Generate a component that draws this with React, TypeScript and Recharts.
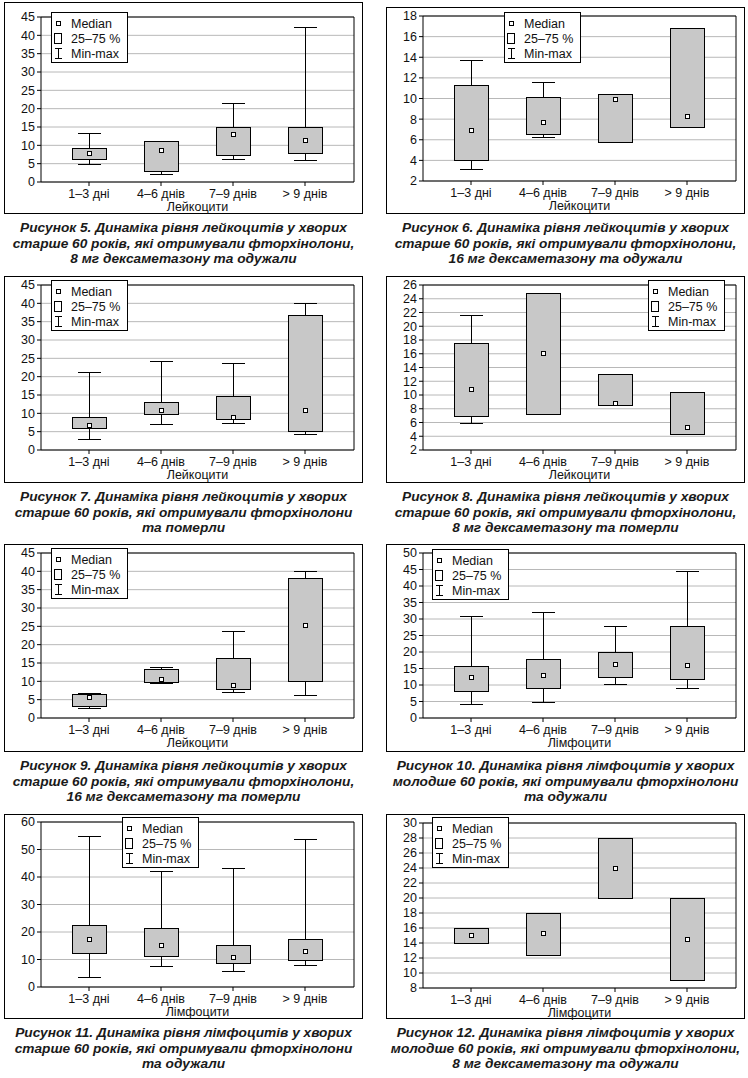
import React from "react";
import { ComposedChart, Bar, Scatter, XAxis, YAxis, CartesianGrid, Legend } from "recharts";

const categories = ["1–3 дні", "4–6 днів", "7–9 днів", "> 9 днів"];

// Рисунок 5 (лейкоцити, >60, 8 мг, одужали)
const f5Min = [5.0, 2.3, 6.4, 6.1];
const f5Q1 = [6.4, 3.0, 7.5, 8.0];
const f5Med = [8.0, 8.8, 13.2, 11.4];
const f5Q3 = [9.4, 11.2, 15.0, 15.0];
const f5Max = [13.4, null, 21.6, 42.4];

// Рисунок 6
const f6Min = [3.2, 6.3, null, null];
const f6Q1 = [4.0, 6.6, 5.8, 7.25];
const f6Med = [6.9, 7.7, 9.95, 8.35];
const f6Q3 = [11.3, 10.1, 10.4, 16.8];
const f6Max = [13.7, 11.6, null, null];

// Рисунок 7
const f7Min = [2.9, 7.0, 7.3, 4.3];
const f7Q1 = [5.9, 9.7, 8.4, 5.1];
const f7Med = [6.8, 11.0, 9.1, 10.8];
const f7Q3 = [8.9, 13.2, 14.6, 36.7];
const f7Max = [21.2, 24.4, 23.6, 40.0];

// Рисунок 8
const f8Min = [5.9, null, null, null];
const f8Q1 = [7.0, 7.2, 8.6, 4.4];
const f8Med = [10.8, 16.1, 8.9, 5.3];
const f8Q3 = [17.5, 24.8, 13.0, 10.5];
const f8Max = [21.6, null, null, null];

// Рисунок 9
const f9Min = [2.7, 9.6, 7.1, 6.3];
const f9Q1 = [3.3, 9.8, 7.8, 10.1];
const f9Med = [5.8, 10.5, 9.1, 25.3];
const f9Q3 = [6.6, 13.5, 16.4, 38.3];
const f9Max = [6.9, 14.0, 23.7, 40.2];

// Рисунок 10
const f10Min = [4.1, 5.0, 10.4, 9.2];
const f10Q1 = [8.2, 9.2, 12.3, 11.7];
const f10Med = [12.5, 13.0, 16.3, 16.0];
const f10Q3 = [15.8, 18.0, 20.0, 27.9];
const f10Max = [31.0, 32.2, 27.9, 44.6];

// Рисунок 11
const f11Min = [3.5, 7.8, 6.0, 8.1];
const f11Q1 = [12.2, 11.1, 8.9, 10.0];
const f11Med = [17.3, 15.1, 10.9, 13.1];
const f11Q3 = [22.7, 21.3, 15.4, 17.6];
const f11Max = [54.9, 42.1, 43.1, 54.0];

// Рисунок 12
const f12Min = [null, null, null, null];
const f12Q1 = [14.0, 12.4, 20.0, 9.1];
const f12Med = [15.1, 15.3, 24.0, 14.6];
const f12Q3 = [16.0, 18.0, 28.0, 20.0];
const f12Max = [null, null, null, null];

const ticks0to45 = [0, 5, 10, 15, 20, 25, 30, 35, 40, 45];
const ticks2to18 = [2, 4, 6, 8, 10, 12, 14, 16, 18];
const ticks2to26 = [2, 4, 6, 8, 10, 12, 14, 16, 18, 20, 22, 24, 26];
const ticks0to50 = [0, 5, 10, 15, 20, 25, 30, 35, 40, 45, 50];
const ticks0to60 = [0, 10, 20, 30, 40, 50, 60];
const ticks8to30 = [8, 10, 12, 14, 16, 18, 20, 22, 24, 26, 28, 30];

const LEUK = "Лейкоцити";
const LYMPH = "Лімфоцити";

const captions = [
  ["Рисунок 5. Динаміка рівня лейкоцитів у хворих", "старше 60 років, які отримували фторхінолони,", "8 мг дексаметазону та одужали"],
  ["Рисунок 6.  Динаміка рівня лейкоцитів у хворих", "старше 60 років, які отримували фторхінолони,", "16 мг дексаметазону та одужали"],
  ["Рисунок 7. Динаміка рівня лейкоцитів у хворих", "старше 60 років, які отримували фторхінолони", "та померли"],
  ["Рисунок 8. Динаміка рівня лейкоцитів у хворих", "старше 60 років, які отримували фторхінолони,", "8 мг дексаметазону та померли"],
  ["Рисунок 9. Динаміка рівня лейкоцитів у хворих", "старше 60 років, які отримували фторхінолони,", "16 мг дексаметазону та померли"],
  ["Рисунок 10. Динаміка рівня лімфоцитів у хворих", "молодше 60 років, які отримували фторхінолони", "та одужали"],
  ["Рисунок 11. Динаміка рівня лімфоцитів у хворих", "старше 60 років, які отримували фторхінолони", "та одужали"],
  ["Рисунок 12. Динаміка рівня лімфоцитів у хворих", "молодше 60 років, які отримували фторхінолони,", "8 мг дексаметазону та одужали"],
];

const COLS = [
  { chartLeft: 0, axisWidth: 41, marginRight: 20, frameLeft: 4, frameWidth: 359 },
  { chartLeft: 374, axisWidth: 49, marginRight: 12, frameLeft: 386, frameWidth: 359 },
];

const PANELS = [
  { col: 0, frameTop: 2, frameBottom: 214, plotTop: 17, ticks: ticks0to45, title: LEUK, legend: [51, 12], min: f5Min, q1: f5Q1, med: f5Med, q3: f5Q3, max: f5Max },
  { col: 1, frameTop: 7, frameBottom: 214, plotTop: 16, ticks: ticks2to18, title: LEUK, legend: [504, 12], min: f6Min, q1: f6Q1, med: f6Med, q3: f6Q3, max: f6Max },
  { col: 0, frameTop: 276, frameBottom: 483, plotTop: 285, ticks: ticks0to45, title: LEUK, legend: [51, 280], min: f7Min, q1: f7Q1, med: f7Med, q3: f7Q3, max: f7Max },
  { col: 1, frameTop: 276, frameBottom: 483, plotTop: 285, ticks: ticks2to26, title: LEUK, legend: [648, 280], min: f8Min, q1: f8Q1, med: f8Med, q3: f8Q3, max: f8Max },
  { col: 0, frameTop: 544, frameBottom: 752, plotTop: 553, ticks: ticks0to45, title: LEUK, legend: [51, 548], min: f9Min, q1: f9Q1, med: f9Med, q3: f9Q3, max: f9Max },
  { col: 1, frameTop: 544, frameBottom: 752, plotTop: 553, ticks: ticks0to50, title: LYMPH, legend: [432, 549], min: f10Min, q1: f10Q1, med: f10Med, q3: f10Q3, max: f10Max },
  { col: 0, frameTop: 814, frameBottom: 1019, plotTop: 822, ticks: ticks0to60, title: LYMPH, legend: [122, 817], min: f11Min, q1: f11Q1, med: f11Med, q3: f11Q3, max: f11Max },
  { col: 1, frameTop: 814, frameBottom: 1019, plotTop: 823, ticks: ticks8to30, title: LYMPH, legend: [432, 817], min: f12Min, q1: f12Q1, med: f12Med, q3: f12Q3, max: f12Max },
];

const TEXT = "#111";
const FONT = '"Liberation Sans", Arial, sans-serif';

const Whisker = (props: any) => {
  const { x, y, width, height } = props;
  if (x == null || y == null) return null;
  const cx = Math.round(x + width / 2) + 0.5;
  const top = Math.round(Math.min(y, y + height)) + 0.5;
  const bottom = Math.round(Math.max(y, y + height)) + 0.5;
  return (
    <g stroke="#000" strokeWidth={1}>
      <line x1={cx} x2={cx} y1={top} y2={bottom} />
      <line x1={cx - 11.5} x2={cx + 11.5} y1={top} y2={top} />
      <line x1={cx - 11.5} x2={cx + 11.5} y1={bottom} y2={bottom} />
    </g>
  );
};

const BoxShape = (props: any) => {
  const { x, y, width, height } = props;
  if (x == null || y == null) return null;
  const top = Math.round(Math.min(y, y + height)) + 0.5;
  const bottom = Math.round(Math.max(y, y + height)) + 0.5;
  return (
    <rect x={Math.round(x) + 0.5} y={top} width={Math.round(width)} height={bottom - top} fill="#c8c8c8" stroke="#000" strokeWidth={1} />
  );
};

const MedianDot = (props: any) => {
  const { cx, cy } = props;
  if (cx == null || cy == null) return null;
  return <rect x={Math.round(cx) - 2 + 0.5} y={Math.round(cy) - 2 + 0.5} width={4} height={4} fill="#fff" stroke="#000" strokeWidth={1} />;
};

const legendRow = { display: "flex", alignItems: "center", height: 15 } as const;

const LegendBox = () => (
  <div
    style={{
      width: 77,
      height: 51,
      boxSizing: "border-box",
      border: "1px solid #000",
      background: "#fff",
      paddingTop: 3,
      fontSize: 12.5,
      color: TEXT,
      fontFamily: FONT,
      whiteSpace: "nowrap",
    }}
  >
    <div style={legendRow}>
      <svg width={18} height={15}>
        <rect x={4.5} y={5.5} width={4} height={4} fill="#fff" stroke="#000" />
      </svg>
      <span style={{ marginLeft: 1 }}>Median</span>
    </div>
    <div style={legendRow}>
      <svg width={18} height={15}>
        <rect x={2.5} y={2.5} width={7} height={10} fill="#fff" stroke="#000" />
      </svg>
      <span style={{ marginLeft: 1 }}>25–75 %</span>
    </div>
    <div style={legendRow}>
      <svg width={18} height={15}>
        <g stroke="#000">
          <line x1={6.5} x2={6.5} y1={2.5} y2={12.5} />
          <line x1={3} x2={10} y1={2.5} y2={2.5} />
          <line x1={3} x2={10} y1={12.5} y2={12.5} />
        </g>
      </svg>
      <span style={{ marginLeft: 1 }}>Min-max</span>
    </div>
  </div>
);

function Panel({ p, caption }: { p: any; caption: string[] }) {
  const col = COLS[p.col];
  const data = categories.map((cat, i) => ({
    cat,
    whisker: [p.min[i] ?? p.q1[i], p.max[i] ?? p.q3[i]],
    box: [p.q1[i], p.q3[i]],
    med: p.med[i],
  }));
  const chartTop = p.plotTop - 20;
  const domain = [p.ticks[0], p.ticks[p.ticks.length - 1]];

  return (
    <>
      <div
        style={{
          position: "absolute",
          left: col.frameLeft,
          top: p.frameTop,
          width: col.frameWidth,
          height: p.frameBottom - p.frameTop,
          border: "1px solid #000",
          boxSizing: "border-box",
        }}
      />
      <div style={{ position: "absolute", left: col.chartLeft, top: chartTop }}>
        <ComposedChart
          width={374}
          height={222}
          data={data}
          margin={{ top: 20, right: col.marginRight, bottom: 8, left: 0 }}
          barSize={34}
          barGap={-34}
        >
          <CartesianGrid horizontal vertical={false} stroke="#b8b8b8" />
          <XAxis
            dataKey="cat"
            height={29}
            interval={0}
            padding={{ left: 12, right: 13 }}
            stroke="#000"
            tickSize={4}
            tickMargin={3}
            tick={{ fill: TEXT, fontSize: 12.5 }}
            label={{ value: p.title, position: "insideBottom", offset: 0, fill: TEXT, fontSize: 12.5 }}
          />
          <XAxis
            xAxisId="t"
            orientation="top"
            mirror
            dataKey="cat"
            interval={0}
            padding={{ left: 12, right: 13 }}
            stroke="#000"
            tickSize={4}
            tick={false}
          />
          <YAxis
            type="number"
            domain={domain}
            ticks={p.ticks}
            interval={0}
            width={col.axisWidth}
            stroke="#000"
            tickSize={4}
            tickMargin={2}
            tick={{ fill: TEXT, fontSize: 12.5 }}
          />
          <YAxis
            yAxisId="r"
            orientation="right"
            mirror
            type="number"
            domain={domain}
            ticks={p.ticks}
            interval={0}
            stroke="#000"
            tickSize={4}
            tick={false}
          />
          <Bar dataKey="whisker" shape={<Whisker />} isAnimationActive={false} />
          <Bar dataKey="box" shape={<BoxShape />} isAnimationActive={false} />
          <Scatter dataKey="med" shape={<MedianDot />} isAnimationActive={false} />
          <Legend
            layout="vertical"
            align="center"
            verticalAlign="middle"
            content={() => <LegendBox />}
            wrapperStyle={{ left: p.legend[0] - col.chartLeft, top: p.legend[1] - chartTop, width: 77, height: 51 }}
          />
        </ComposedChart>
      </div>
      <div
        style={{
          position: "absolute",
          left: col.frameLeft - 10,
          top: p.frameBottom + 6,
          width: col.frameWidth + 20,
          textAlign: "center",
          fontFamily: FONT,
          fontSize: 13.7,
          fontWeight: "bold",
          fontStyle: "italic",
          lineHeight: "15.5px",
          color: "#1a1a1a",
          whiteSpace: "nowrap",
        }}
      >
        {caption.map((line) => (
          <div key={line}>{line}</div>
        ))}
      </div>
    </>
  );
}

export default function App() {
  return (
    <div
      style={{
        position: "absolute",
        left: 0,
        top: 0,
        width: 748,
        height: 1078,
        background: "#fff",
        fontFamily: FONT,
        overflow: "hidden",
      }}
    >
      {PANELS.map((p, i) => (
        <Panel key={i} p={p} caption={captions[i]} />
      ))}
    </div>
  );
}
